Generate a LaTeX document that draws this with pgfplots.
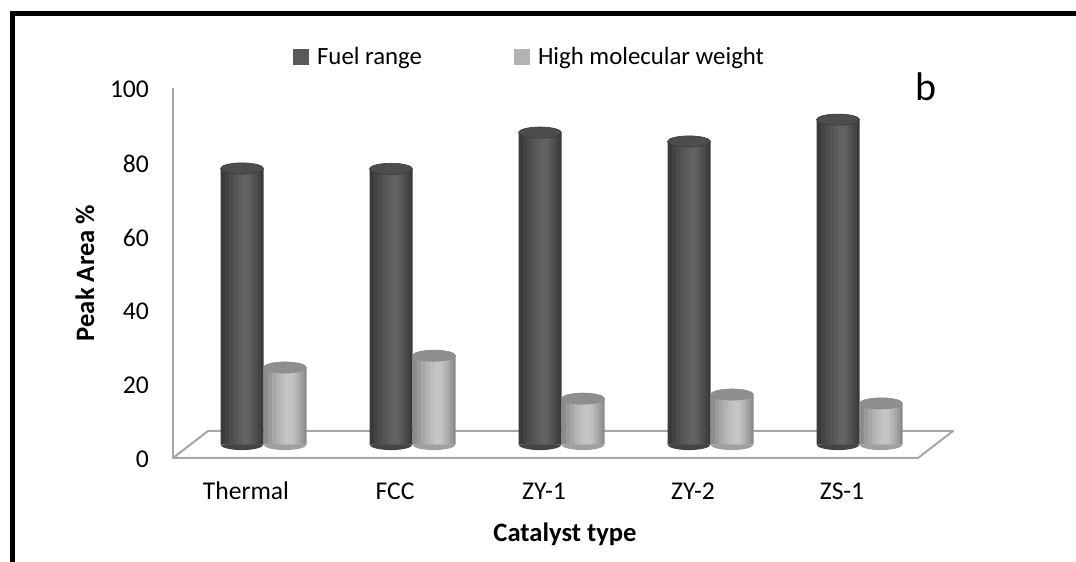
\documentclass[border=0pt]{standalone}
\usepackage{fontspec}
\setmainfont{Carlito}
\usepackage{pgfplots}
\pgfplotsset{compat=1.18}
\usepackage{pgfplotstable}

% fuel range: shades from rim to highlight
\definecolor{fuelA}{HTML}{3A3A3A}
\definecolor{fuelB}{HTML}{434343}
\definecolor{fuelC}{HTML}{4C4C4C}
\definecolor{fuelD}{HTML}{545454}
\definecolor{fuelE}{HTML}{5B5B5B}
\definecolor{fuelF}{HTML}{626262}
\definecolor{fuelTop}{HTML}{4D4D4D}
\definecolor{fuelFoot}{HTML}{444444}
\definecolor{fuelKey}{HTML}{595959}
% high molecular weight: shades from rim to highlight
\definecolor{hmwA}{HTML}{8C8C8C}
\definecolor{hmwB}{HTML}{9A9A9A}
\definecolor{hmwC}{HTML}{A7A7A7}
\definecolor{hmwD}{HTML}{B3B3B3}
\definecolor{hmwE}{HTML}{BDBDBD}
\definecolor{hmwF}{HTML}{C4C4C4}
\definecolor{hmwTop}{HTML}{8E8E8E}
\definecolor{hmwFoot}{HTML}{A0A0A0}
\definecolor{hmwKey}{HTML}{B3B3B3}
\definecolor{floorline}{HTML}{A6A6A6}

% lower half of an ellipse: the rounded foot of a cylinder
\pgfdeclareplotmark{footcap}{%
  \pgfpathmoveto{\pgfqpoint{-\pgfplotmarksize}{0pt}}%
  \pgfpatharc{180}{360}{\pgfplotmarksize and 0.26\pgfplotmarksize}%
  \pgfpathclose
  \pgfusepathqfill
}

% peak area (%) per catalyst; base = foot of each cylinder
\pgfplotstableread{
x fuel hmw base
0 74.6 20.8 0
1 74.5 24.0 0
2 84.3 12.4 0
3 81.9 13.5 0
4 87.8 11.1 0
}\peaktable

\pgfplotsset{
  cyl/.style={forget plot, ybar, draw=none},
}

\begin{document}
\begin{tikzpicture}[x=0.5pt,y=0.5pt]
\useasboundingbox (0,0) rectangle (1076,562);
% outer frame
\draw[line width=2.5pt] (12.5,-5) -- (12.5,548.5) -- (1090,548.5);
% floor of the 3-D plot area and the value axis
\draw[floorline, line width=1pt, line join=round]
  (173,104) -- (918,104) -- (953,131) -- (208,131) -- cycle;
\draw[floorline, line width=1pt] (173,104) -- (173,474);

\begin{axis}[
  at={(94.5pt,58.75pt)}, anchor=south west,
  x=74.5pt, y=1.85pt,
  xmin=-0.5, xmax=4.5, ymin=0, ymax=100,
  clip=false,
  axis line style={draw=none},
  tick style={draw=none},
  xtick={0,...,4},
  xticklabels={Thermal,FCC,ZY-1,ZY-2,ZS-1},
  ytick={0,20,...,100},
  /pgf/number format/assume math mode=true,
  ticklabel style={font=\fontsize{12.8}{15}\selectfont},
  xticklabel style={anchor=base, xshift=-8.75pt, yshift=-27.25pt},
  yticklabel style={anchor=east, xshift=-16.5pt, yshift=-7.5pt},
  xlabel={Catalyst type},
  ylabel={Peak Area \%},
  every axis x label/.style={at={(axis description cs:0.5047,-0.2635)}, anchor=base,
    font=\bfseries\fontsize{13.3}{16}\selectfont},
  every axis y label/.style={at={(axis description cs:-0.1396,0.4635)}, anchor=center, rotate=90,
    font=\bfseries\fontsize{13.3}{16}\selectfont},
  legend style={draw=none, fill=none, at={(axis description cs:0.4585,1.047)}, anchor=center,
    legend columns=2, font=\fontsize{12.4}{15}\selectfont,
    /tikz/every even column/.append style={column sep=44pt}},
]
% rounded feet of the cylinders
\addplot[forget plot, only marks, xshift=-10.75pt, mark=footcap, mark size=10.75pt,
  mark options={draw=none, fill=fuelFoot}]
  table[x=x, y=base]{\peaktable};
\addplot[forget plot, only marks, xshift=10.75pt, mark=footcap, mark size=10.75pt,
  mark options={draw=none, fill=hmwFoot}]
  table[x=x, y=base]{\peaktable};

% fuel range: cylinder bodies built from nested bars
\addplot[ybar, draw=none, fill=fuelA, bar width=21.5pt, bar shift=-10.75pt,
  legend image code/.code={\fill[fuelKey] (0pt,-4pt) rectangle (8pt,4pt); \path (10pt,0pt);}]
  table[x=x, y=fuel]{\peaktable};
\addlegendentry{Fuel range}
\addplot[cyl, fill=fuelB, bar width=18pt,  bar shift=-10.35pt] table[x=x, y=fuel]{\peaktable};
\addplot[cyl, fill=fuelC, bar width=14.5pt, bar shift=-9.95pt] table[x=x, y=fuel]{\peaktable};
\addplot[cyl, fill=fuelD, bar width=11pt,  bar shift=-9.55pt] table[x=x, y=fuel]{\peaktable};
\addplot[cyl, fill=fuelE, bar width=7.5pt, bar shift=-9.15pt] table[x=x, y=fuel]{\peaktable};
\addplot[cyl, fill=fuelF, bar width=4pt,   bar shift=-8.75pt] table[x=x, y=fuel]{\peaktable};
\addplot[forget plot, only marks, xshift=-10.75pt, mark=*, mark size=10.75pt,
  mark options={draw=fuelA, line width=0.3pt, fill=fuelTop, yscale=0.26}]
  table[x=x, y=fuel]{\peaktable};

% high molecular weight
\addplot[ybar, draw=none, fill=hmwA, bar width=21.5pt, bar shift=10.75pt,
  legend image code/.code={\fill[hmwKey] (0pt,-4pt) rectangle (8pt,4pt); \path (10pt,0pt);}]
  table[x=x, y=hmw]{\peaktable};
\addlegendentry{High molecular weight}
\addplot[cyl, fill=hmwB, bar width=18pt,  bar shift=11.15pt] table[x=x, y=hmw]{\peaktable};
\addplot[cyl, fill=hmwC, bar width=14.5pt, bar shift=11.55pt] table[x=x, y=hmw]{\peaktable};
\addplot[cyl, fill=hmwD, bar width=11pt,  bar shift=11.95pt] table[x=x, y=hmw]{\peaktable};
\addplot[cyl, fill=hmwE, bar width=7.5pt, bar shift=12.35pt] table[x=x, y=hmw]{\peaktable};
\addplot[cyl, fill=hmwF, bar width=4pt,   bar shift=12.75pt] table[x=x, y=hmw]{\peaktable};
\addplot[forget plot, only marks, xshift=10.75pt, mark=*, mark size=10.75pt,
  mark options={draw=hmwA, line width=0.3pt, fill=hmwTop, yscale=0.26}]
  table[x=x, y=hmw]{\peaktable};
\end{axis}

\node[anchor=base west, inner sep=0pt, font=\fontsize{20}{24}\selectfont] at (915,461) {b};
\end{tikzpicture}
\end{document}
